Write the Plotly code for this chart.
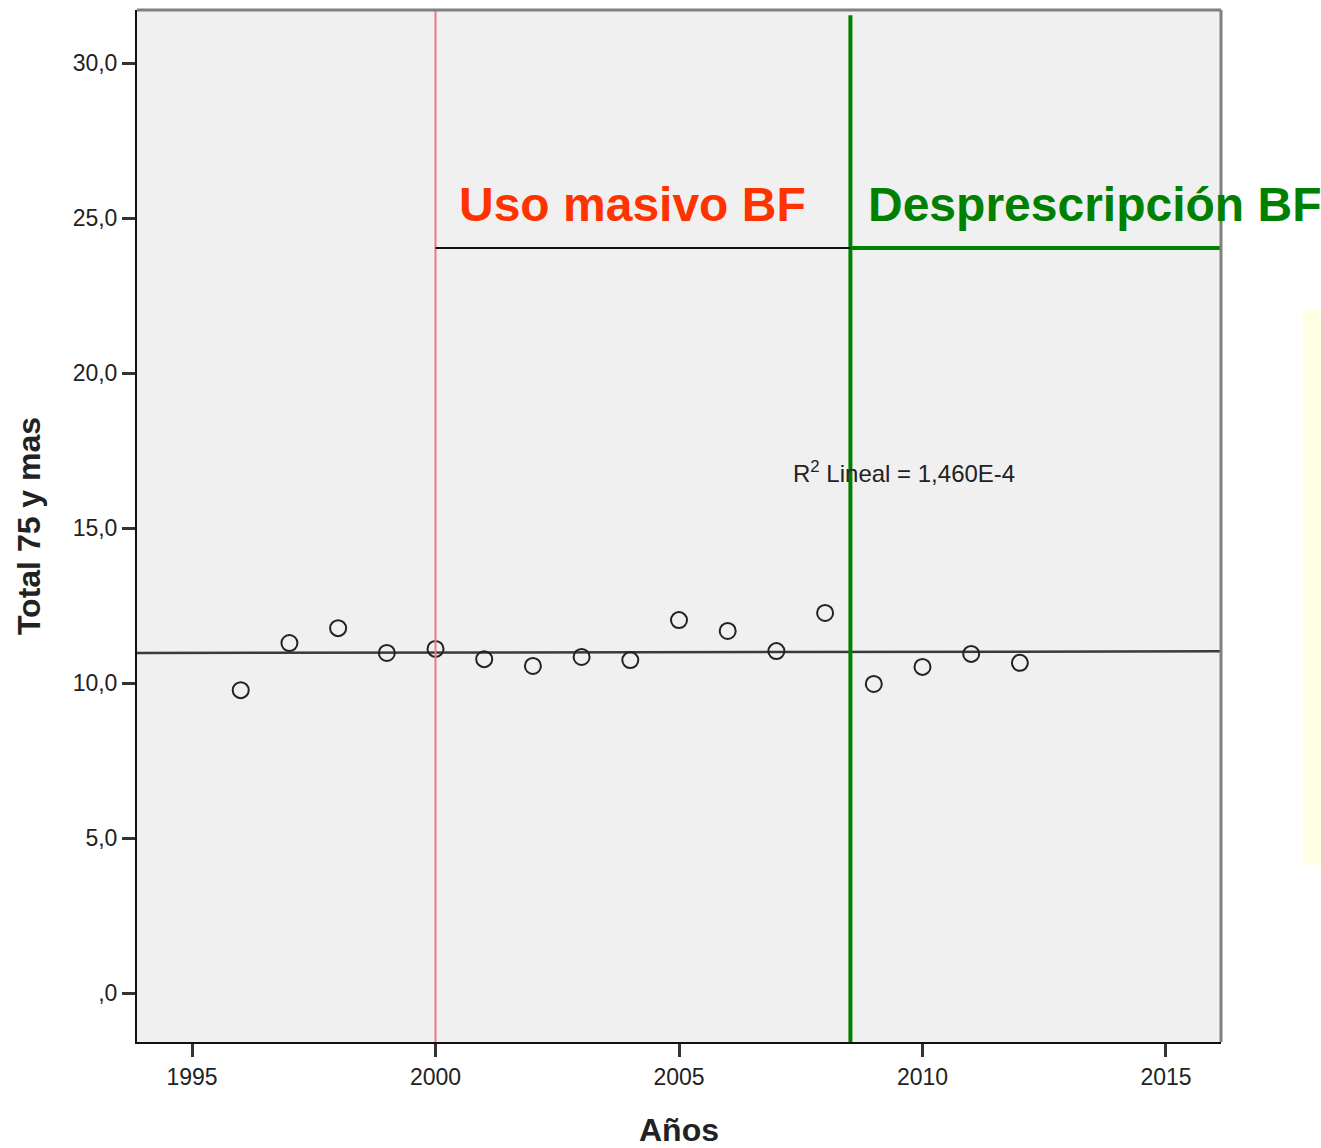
import numpy as np
import plotly.graph_objects as go

years = [1996, 1997, 1998, 1999, 2000, 2001, 2002, 2003, 2004, 2005, 2006, 2007, 2008, 2009, 2010, 2011, 2012]
total_75 = [9.77, 11.29, 11.77, 10.97, 11.10, 10.77, 10.55, 10.84, 10.74, 12.03, 11.68, 11.03, 12.26, 9.97, 10.52, 10.94, 10.65]

x_ticks = [1995, 2000, 2005, 2010, 2015]
y_ticks = [0, 5, 10, 15, 20, 25, 30]
y_ticktext = [",0", "5,0", "10,0", "15,0", "20,0", "25,0", "30,0"]

x_range = [1993.87, 2016.13]
y_range = [-1.58, 31.71]

start_massive = 2000
start_deprescription = 2008.52
period_bar_y = 24.03

label_massive = "Uso masivo BF"
label_deprescription = "Desprescripción BF"
r2_label = "R<sup>2</sup> Lineal = 1,460E-4"

# linear fit through the data
b, a = np.polyfit(years, total_75, 1)
fit_x = x_range
fit_y = [a + b * v for v in fit_x]

fig = go.Figure()

fig.add_trace(go.Scatter(
    x=fit_x, y=fit_y, mode="lines",
    line=dict(color="#3a3a3a", width=2.5), hoverinfo="skip", showlegend=False,
))
fig.add_trace(go.Scatter(
    x=years, y=total_75, mode="markers",
    marker=dict(symbol="circle-open", size=16, color="#222222", line=dict(width=2)),
    showlegend=False,
))

shapes = [
    dict(type="line", xref="x", yref="paper", x0=start_massive, x1=start_massive, y0=0, y1=1,
         line=dict(color="#F07878", width=2), layer="above"),
    dict(type="line", xref="x", yref="paper", x0=start_deprescription, x1=start_deprescription,
         y0=0, y1=0.995, line=dict(color="#008000", width=4), layer="above"),
    dict(type="line", xref="x", yref="y", x0=start_massive, x1=start_deprescription,
         y0=period_bar_y, y1=period_bar_y, line=dict(color="#111111", width=2), layer="above"),
    dict(type="line", xref="x", yref="y", x0=start_deprescription, x1=x_range[1],
         y0=period_bar_y, y1=period_bar_y, line=dict(color="#008000", width=4), layer="above"),
    dict(type="line", xref="paper", yref="paper", x0=0, x1=1, y0=1, y1=1,
         line=dict(color="#808080", width=3), layer="above"),
    dict(type="line", xref="paper", yref="paper", x0=1, x1=1, y0=0, y1=1,
         line=dict(color="#808080", width=3), layer="above"),
    dict(type="rect", xref="paper", yref="paper", x0=1.0756, x1=1.095, y0=0.1717, y1=0.7093,
         fillcolor="#FFFFE3", line=dict(width=0), layer="below"),
]

annotations = [
    dict(x=start_massive + 0.45, y=25.45, xref="x", yref="y", text=label_massive,
         showarrow=False, xanchor="left", yanchor="middle",
         font=dict(family="Liberation Sans, Arial", size=48, color="#FF3300", weight="bold")),
    dict(x=2008.85, y=25.45, xref="x", yref="y", text=label_deprescription,
         showarrow=False, xanchor="left", yanchor="middle",
         font=dict(family="Liberation Sans, Arial", size=48, color="#008000", weight="bold")),
    dict(x=2007.29, y=16.8, xref="x", yref="y", text=r2_label,
         showarrow=False, xanchor="left", yanchor="middle",
         font=dict(family="Liberation Sans, Arial", size=24, color="#222222")),
]

fig.update_layout(
    width=1321, height=1148,
    margin=dict(l=137, r=100, t=10, b=106),
    paper_bgcolor="white", plot_bgcolor="#F0F0F0",
    shapes=shapes, annotations=annotations,
    font=dict(family="Liberation Sans, Arial", color="#222222"),
    xaxis=dict(
        range=x_range, tickvals=x_ticks, ticktext=[str(v) for v in x_ticks],
        showgrid=False, zeroline=False, automargin=False,
        showline=True, linecolor="#111111", linewidth=2,
        ticks="outside", ticklen=13, tickwidth=3, tickcolor="#333333",
        tickfont=dict(size=23, color="#222222"),
        title=dict(text="Años", font=dict(size=32, weight="bold", color="#222222"), standoff=33),
    ),
    yaxis=dict(
        range=y_range, tickvals=y_ticks, ticktext=y_ticktext,
        showgrid=False, zeroline=False, automargin=False,
        showline=True, linecolor="#111111", linewidth=2,
        ticks="outside", ticklen=13, tickwidth=3, tickcolor="#333333",
        tickfont=dict(size=23, color="#222222"),
        title=dict(text="Total 75 y mas", font=dict(size=32, weight="bold", color="#222222"), standoff=22),
    ),
)

fig.write_html("out.html")
